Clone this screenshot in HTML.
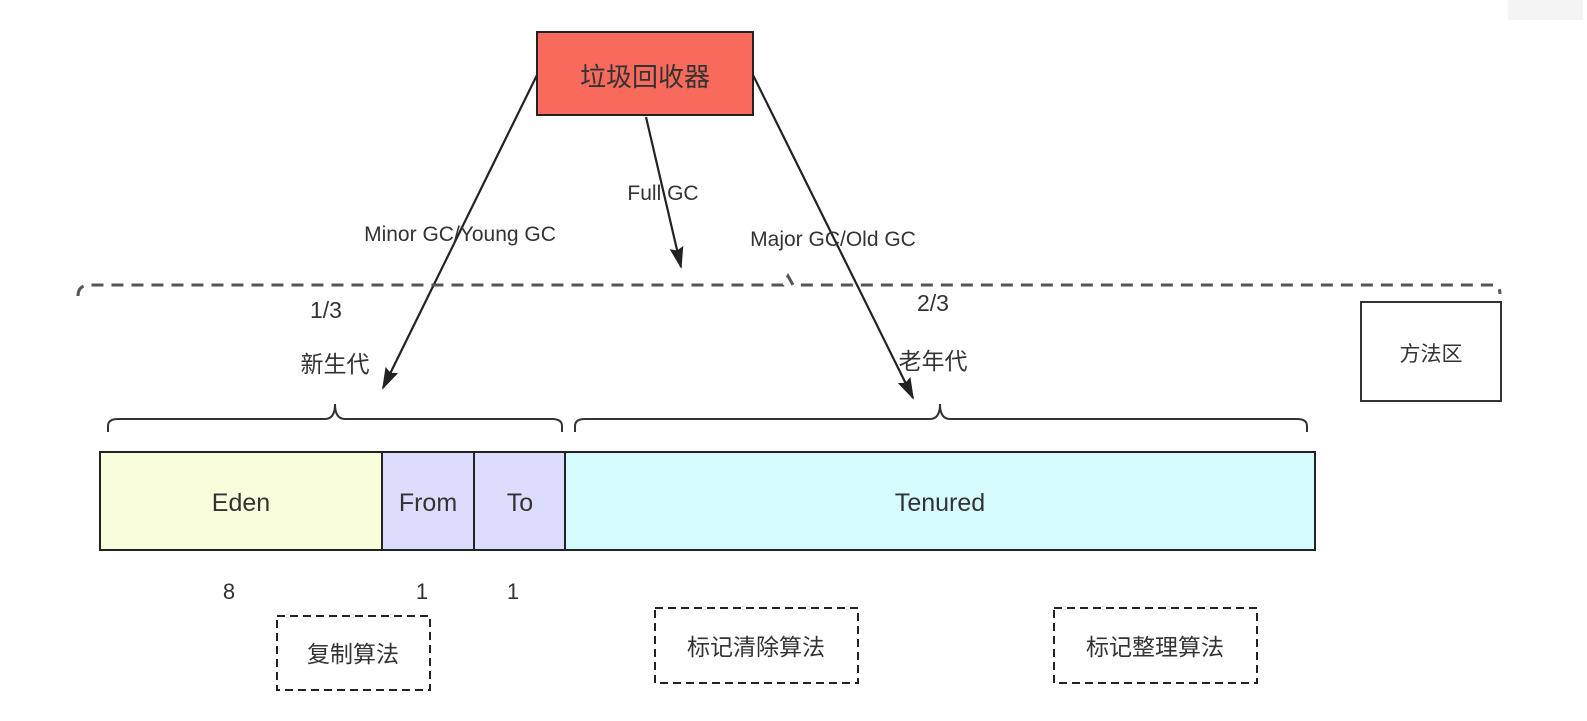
<!DOCTYPE html>
<html><head><meta charset="utf-8"><style>
html,body{margin:0;padding:0;background:#fff;}
svg{display:block;}
text{font-family:"Liberation Sans","Noto Sans CJK SC",sans-serif;fill:#333;}
</style></head><body>
<svg width="1587" height="721" viewBox="0 0 1587 721" xmlns="http://www.w3.org/2000/svg">
<defs>
<marker id="ah" markerWidth="24" markerHeight="14" refX="20" refY="7" orient="auto" markerUnits="userSpaceOnUse">
<path d="M0,0 L22,7 L0,14 L3,7 Z" fill="#222"/>
</marker>
</defs>
<rect x="1508" y="0" width="75" height="20" fill="#f4f4f4"/>
<rect x="537" y="32" width="216" height="83" fill="#f86a5c" stroke="#222" stroke-width="2"/>
<text x="645" y="86" font-size="26" text-anchor="middle" fill="#222">垃圾回收器</text>
<line x1="537" y1="75" x2="383" y2="388" stroke="#222" stroke-width="2.2" marker-end="url(#ah)"/>
<line x1="646" y1="117" x2="681" y2="267" stroke="#222" stroke-width="2.2" marker-end="url(#ah)"/>
<line x1="753" y1="75" x2="913" y2="398" stroke="#222" stroke-width="2.2" marker-end="url(#ah)"/>
<path d="M78,296 Q78,285 90,285 L783,285 L788,276 L793,285 L1492,285 Q1500,285 1500,294" fill="none" stroke="#555" stroke-width="3" stroke-dasharray="12,8"/>
<text x="460" y="241" font-size="21" text-anchor="middle" fill="#444">Minor GC/Young GC</text>
<text x="663" y="200" font-size="21" text-anchor="middle" fill="#444">Full GC</text>
<text x="833" y="246" font-size="21" text-anchor="middle" fill="#444">Major GC/Old GC</text>
<text x="326" y="318" font-size="23" text-anchor="middle" fill="#444">1/3</text>
<text x="933" y="311" font-size="23" text-anchor="middle" fill="#444">2/3</text>
<text x="335" y="372" font-size="23" text-anchor="middle" fill="#444">新生代</text>
<text x="933" y="369" font-size="23" text-anchor="middle" fill="#444">老年代</text>
<path d="M108,432 L108,426 Q108,419 118,419 L325,419 Q335,419 335,404 Q335,419 345,419 L552,419 Q562,419 562,426 L562,432" fill="none" stroke="#333" stroke-width="2"/>
<path d="M575,432 L575,426 Q575,419 585,419 L930,419 Q940,419 940,404 Q940,419 950,419 L1297,419 Q1307,419 1307,426 L1307,432" fill="none" stroke="#333" stroke-width="2"/>
<rect x="100" y="452" width="282" height="98" fill="#f9fddb" stroke="#222" stroke-width="2"/>
<rect x="382" y="452" width="92" height="98" fill="#dcdcfd" stroke="#222" stroke-width="2"/>
<rect x="474" y="452" width="91" height="98" fill="#dcdcfd" stroke="#222" stroke-width="2"/>
<rect x="565" y="452" width="750" height="98" fill="#d5fbfd" stroke="#222" stroke-width="2"/>
<text x="241" y="511" font-size="25" text-anchor="middle" fill="#3a4a2a">Eden</text>
<text x="428" y="511" font-size="25" text-anchor="middle" fill="#3a3a5a">From</text>
<text x="520" y="511" font-size="25" text-anchor="middle" fill="#3a3a5a">To</text>
<text x="940" y="511" font-size="25" text-anchor="middle" fill="#2a4a50">Tenured</text>
<text x="229" y="599" font-size="22" text-anchor="middle" fill="#444">8</text>
<text x="422" y="599" font-size="22" text-anchor="middle" fill="#444">1</text>
<text x="513" y="599" font-size="22" text-anchor="middle" fill="#444">1</text>
<rect x="277" y="616" width="153" height="74" fill="none" stroke="#222" stroke-width="2" stroke-dasharray="8,5"/>
<text x="353" y="662" font-size="23" text-anchor="middle" fill="#333">复制算法</text>
<rect x="655" y="608" width="203" height="75" fill="none" stroke="#222" stroke-width="2" stroke-dasharray="8,5"/>
<text x="756" y="655" font-size="23" text-anchor="middle" fill="#333">标记清除算法</text>
<rect x="1054" y="608" width="203" height="75" fill="none" stroke="#222" stroke-width="2" stroke-dasharray="8,5"/>
<text x="1155" y="655" font-size="23" text-anchor="middle" fill="#333">标记整理算法</text>
<rect x="1361" y="302" width="140" height="99" fill="#fff" stroke="#333" stroke-width="2"/>
<text x="1431" y="361" font-size="21" text-anchor="middle" fill="#444">方法区</text>
</svg>
</body></html>
